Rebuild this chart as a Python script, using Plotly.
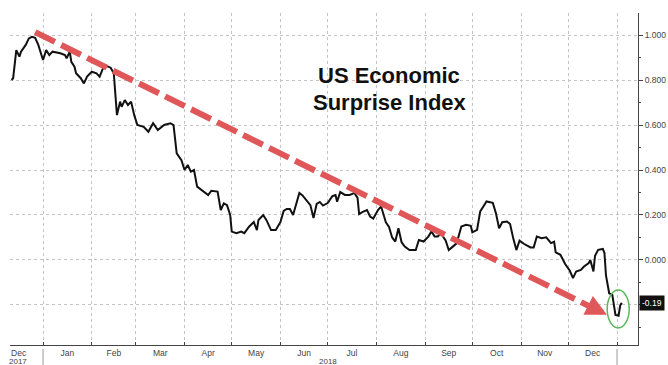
import plotly.graph_objects as go

# ---- data ----
dates = [
    "2017-12-12", "2017-12-13", "2017-12-15", "2017-12-17", "2017-12-18", "2017-12-21",
    "2017-12-23", "2017-12-25", "2017-12-27", "2017-12-29", "2017-12-31", "2018-01-01",
    "2018-01-03", "2018-01-05", "2018-01-07", "2018-01-09", "2018-01-12", "2018-01-15",
    "2018-01-16", "2018-01-18", "2018-01-19", "2018-01-21", "2018-01-22", "2018-01-25",
    "2018-01-27", "2018-01-29", "2018-02-01", "2018-02-04", "2018-02-06", "2018-02-09",
    "2018-02-13", "2018-02-15", "2018-02-16", "2018-02-17", "2018-02-19", "2018-02-20",
    "2018-02-22", "2018-02-24", "2018-02-26", "2018-02-28", "2018-03-02", "2018-03-06",
    "2018-03-09", "2018-03-12", "2018-03-15", "2018-03-19", "2018-03-23", "2018-03-25",
    "2018-03-27", "2018-03-30", "2018-04-01", "2018-04-03", "2018-04-05", "2018-04-07",
    "2018-04-09", "2018-04-12", "2018-04-16", "2018-04-18", "2018-04-22", "2018-04-24",
    "2018-04-26", "2018-04-28", "2018-04-30", "2018-05-01", "2018-05-04", "2018-05-07",
    "2018-05-09", "2018-05-12", "2018-05-15", "2018-05-17", "2018-05-18", "2018-05-21",
    "2018-05-23", "2018-05-26", "2018-05-29", "2018-06-01", "2018-06-03", "2018-06-05",
    "2018-06-07", "2018-06-09", "2018-06-11", "2018-06-13", "2018-06-15", "2018-06-18",
    "2018-06-20", "2018-06-22", "2018-06-24", "2018-06-26", "2018-06-28", "2018-07-01",
    "2018-07-04", "2018-07-06", "2018-07-07", "2018-07-09", "2018-07-12", "2018-07-15",
    "2018-07-18", "2018-07-20", "2018-07-21", "2018-07-23", "2018-07-26", "2018-07-28",
    "2018-07-30", "2018-08-02", "2018-08-04", "2018-08-07", "2018-08-09", "2018-08-11",
    "2018-08-13", "2018-08-15", "2018-08-17", "2018-08-19", "2018-08-22", "2018-08-26",
    "2018-08-28", "2018-08-31", "2018-09-03", "2018-09-05", "2018-09-07", "2018-09-09",
    "2018-09-11", "2018-09-14", "2018-09-16", "2018-09-18", "2018-09-21", "2018-09-24",
    "2018-09-27", "2018-09-30", "2018-10-01", "2018-10-04", "2018-10-06", "2018-10-09",
    "2018-10-10", "2018-10-14", "2018-10-16", "2018-10-18", "2018-10-20", "2018-10-23",
    "2018-10-25", "2018-10-27", "2018-10-29", "2018-10-31", "2018-11-03", "2018-11-07",
    "2018-11-09", "2018-11-11", "2018-11-14", "2018-11-17", "2018-11-20", "2018-11-22",
    "2018-11-23", "2018-11-26", "2018-11-29", "2018-12-02", "2018-12-04", "2018-12-06",
    "2018-12-09", "2018-12-11", "2018-12-14", "2018-12-15", "2018-12-17", "2018-12-18",
    "2018-12-20", "2018-12-23", "2018-12-24", "2018-12-25", "2018-12-27", "2018-12-29",
    "2018-12-31", "2019-01-02", "2019-01-03", "2019-01-04",
]
surprise_index = [
    0.800, 0.808, 0.933, 0.904, 0.926, 0.956,
    0.985, 0.992, 0.988, 0.956, 0.911, 0.889,
    0.933, 0.911, 0.926, 0.923, 0.919, 0.911,
    0.896, 0.926, 0.881, 0.859, 0.830, 0.808,
    0.785, 0.815, 0.837, 0.830, 0.815, 0.867,
    0.855, 0.830, 0.748, 0.644, 0.704, 0.681,
    0.711, 0.689, 0.704, 0.644, 0.600, 0.592,
    0.570, 0.608, 0.578, 0.600, 0.608, 0.600,
    0.474, 0.444, 0.400, 0.422, 0.393, 0.400,
    0.326, 0.311, 0.289, 0.308, 0.304, 0.222,
    0.252, 0.244, 0.200, 0.126, 0.119, 0.126,
    0.119, 0.148, 0.169, 0.133, 0.178, 0.200,
    0.178, 0.133, 0.133, 0.169, 0.218, 0.227,
    0.227, 0.200, 0.253, 0.298, 0.287, 0.260,
    0.244, 0.187, 0.249, 0.258, 0.242, 0.253,
    0.284, 0.289, 0.259, 0.302, 0.289, 0.289,
    0.298, 0.276, 0.204, 0.213, 0.222, 0.193,
    0.184, 0.222, 0.238, 0.167, 0.147, 0.100,
    0.082, 0.141, 0.079, 0.060, 0.044, 0.044,
    0.089, 0.082, 0.104, 0.127, 0.104, 0.104,
    0.118, 0.087, 0.044, 0.056, 0.074, 0.149,
    0.156, 0.152, 0.123, 0.134, 0.216, 0.249,
    0.260, 0.254, 0.208, 0.141, 0.168, 0.171,
    0.160, 0.096, 0.044, 0.086, 0.071, 0.056,
    0.056, 0.104, 0.097, 0.101, 0.075, 0.081,
    0.034, 0.023, -0.018, -0.048, -0.081, -0.051,
    -0.044, -0.029, -0.014, 0.000, -0.051, 0.019,
    0.045, 0.049, 0.031, -0.070, -0.148, -0.155,
    -0.244, -0.248, -0.203, -0.190,
]

y_tickvals = [1.0, 0.8, 0.6, 0.4, 0.2, 0.0, -0.2]
y_ticktext = ["1.000", "0.800", "0.600", "0.400", "0.200", "0.000", ""]
last_value_label = "-0.19"
title_lines = ["US Economic", "Surprise Index"]
year_labels = [("2017-12-16", "2017"), ("2018-07-01", "2018")]
year_breaks = ["2018-01-01", "2019-01-01"]

# trend arrow (start, arrowhead base, tip)
arrow_start = ("2017-12-27", 1.013)
arrow_base = ("2018-12-16 12:00", -0.213)
arrow_tip = ("2018-12-25 14:00", -0.244)
circle_center = ("2019-01-01 18:00", -0.218)

ARROW_RED = "#e0575a"
FONT = "Liberation Sans, Arial"

fig = go.Figure()
fig.add_trace(go.Scatter(
    x=dates, y=surprise_index, mode="lines",
    line=dict(color="#111111", width=2),
    hoverinfo="skip", showlegend=False,
))

shapes = [
    dict(type="line", xref="x", yref="y",
         x0=arrow_start[0], y0=arrow_start[1], x1=arrow_base[0], y1=arrow_base[1],
         line=dict(color=ARROW_RED, width=6, dash="22px,7px")),
    dict(type="circle", xref="x", yref="y",
         xsizemode="pixel", ysizemode="pixel",
         xanchor=circle_center[0], yanchor=circle_center[1],
         x0=-11, x1=11, y0=-19, y1=19,
         line=dict(color="#5cb85c", width=1.5)),
]
for yb in year_breaks:
    shapes.append(dict(type="line", xref="x", yref="paper",
                       x0=yb, x1=yb, y0=-0.012, y1=-0.06,
                       line=dict(color="#999999", width=1)))

annotations = [
    dict(x=arrow_tip[0], y=arrow_tip[1], xref="x", yref="y",
         ax=-15, ay=-7.5, text="",
         showarrow=True, arrowhead=2, arrowsize=0.7, arrowwidth=6,
         arrowcolor=ARROW_RED, standoff=0, startstandoff=0),
    dict(xref="paper", yref="y", x=1, y=-0.19, xanchor="left", yanchor="middle",
         xshift=1, text=last_value_label, showarrow=False,
         font=dict(family=FONT, size=8.5, color="white"),
         bgcolor="#111111", borderpad=2),
    dict(xref="paper", yref="paper", x=(389 - 10) / 628, y=(345 - 75.5) / 332,
         text="<b>%s</b>" % title_lines[0], showarrow=False,
         xanchor="center", yanchor="middle",
         font=dict(family=FONT, size=22, color="#111111")),
    dict(xref="paper", yref="paper", x=(390 - 10) / 628, y=(345 - 102) / 332,
         text="<b>%s</b>" % title_lines[1], showarrow=False,
         xanchor="center", yanchor="middle",
         font=dict(family=FONT, size=22, color="#111111")),
]
for xd, txt in year_labels:
    annotations.append(dict(xref="x", yref="paper", x=xd, y=0, yanchor="top",
                            yshift=-10, text=txt, showarrow=False,
                            font=dict(family=FONT, size=8, color="#444444")))

fig.update_layout(
    width=668, height=365,
    margin=dict(l=10, r=30, t=13, b=20, autoexpand=False),
    paper_bgcolor="white", plot_bgcolor="white",
    showlegend=False,
    shapes=shapes, annotations=annotations,
    xaxis=dict(
        type="date", range=["2017-12-11", "2019-01-14 08:00"],
        dtick="M1", tick0="2018-01-01", tickformat="%b", ticklabelmode="period",
        showgrid=True, gridcolor="#c4c4c4", griddash="dot", gridwidth=1,
        showline=True, linecolor="#444444", linewidth=1,
        ticks="inside", ticklen=3, tickcolor="#444444",
        tickfont=dict(family=FONT, size=8.5, color="#444444"),
        zeroline=False, fixedrange=True, automargin=False,
    ),
    yaxis=dict(
        side="right", range=[-0.378, 1.098],
        tickvals=y_tickvals, ticktext=y_ticktext,
        showgrid=True, gridcolor="#c4c4c4", griddash="dot", gridwidth=1,
        showline=True, linecolor="#444444", linewidth=1,
        ticks="outside", ticklen=4, tickcolor="#444444",
        minor=dict(dtick=0.1, tick0=0, ticks="outside", ticklen=2,
                   tickcolor="#444444", showgrid=False),
        tickfont=dict(family=FONT, size=8.5, color="#444444"),
        zeroline=False, fixedrange=True, automargin=False,
    ),
)

fig.write_html(
    "out.html",
    config={"displayModeBar": False, "staticPlot": True},
    post_script="document.body.style.margin='0';document.body.style.overflow='hidden';",
)
